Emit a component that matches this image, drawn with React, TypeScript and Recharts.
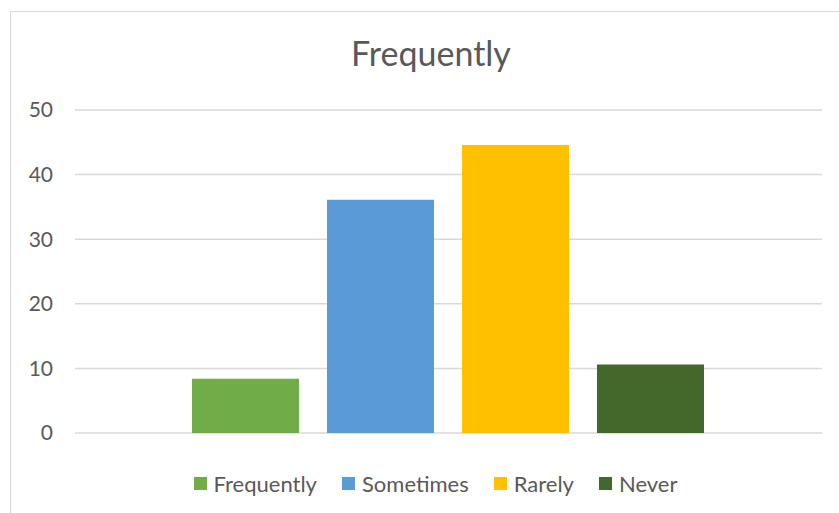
import React from 'react';
import { BarChart, Bar, XAxis, YAxis, CartesianGrid, Legend } from 'recharts';

// Survey response counts, one bar per answer
const categories = ['Frequently'];
const seriesNames = ['Frequently', 'Sometimes', 'Rarely', 'Never'];
const seriesValues = [8.4, 36.1, 44.6, 10.6];
const seriesColors = ['#70AD47', '#5B9BD5', '#FFC000', '#43682B'];
const yTicks = [0, 10, 20, 30, 40, 50];
const chartTitle = 'Frequently';

const data = categories.map((name) => {
  const row: Record<string, string | number> = { name };
  seriesNames.forEach((s, i) => {
    row[s] = seriesValues[i];
  });
  return row;
});

const FONT = 'Lato, "Noto Sans", sans-serif';
const TEXT = '#595959';
const GRID = '#D9D9D9';

const LegendContent = () => (
  <div
    style={{
      display: 'flex',
      justifyContent: 'center',
      alignItems: 'center',
      height: 24,
      fontFamily: FONT,
      fontSize: 22,
      color: TEXT,
      whiteSpace: 'nowrap',
    }}
  >
    {seriesNames.map((s, i) => (
      <div
        key={s}
        style={{ display: 'flex', alignItems: 'center', marginLeft: i === 0 ? 0 : 25 }}
      >
        <span
          style={{
            display: 'inline-block',
            width: 13,
            height: 13,
            background: seriesColors[i],
            marginRight: 7,
          }}
        />
        <span>{s}</span>
      </div>
    ))}
  </div>
);

export default function App() {
  return (
    <div
      style={{
        position: 'absolute',
        left: 0,
        top: 0,
        width: 839,
        height: 513,
        overflow: 'hidden',
        background: '#FFFFFF',
      }}
    >
      {/* chart area frame */}
      <div
        style={{
          position: 'absolute',
          left: 10,
          top: 11,
          width: 860,
          height: 530,
          border: `1.5px solid ${GRID}`,
          boxSizing: 'border-box',
        }}
      />
      <svg
        width={839}
        height={100}
        style={{ position: 'absolute', left: 0, top: 0 }}
      >
        <text
          x={431}
          y={66}
          textAnchor="middle"
          fontFamily={FONT}
          fontSize={34}
          fill={TEXT}
        >
          {chartTitle}
        </text>
      </svg>
      <div style={{ position: 'absolute', left: 0, top: 0 }}>
        <BarChart
          width={839}
          height={513}
          data={data}
          margin={{ top: 110, right: 17, bottom: 80, left: 0 }}
          barCategoryGap={117}
          barGap={28}
        >
          <CartesianGrid vertical={false} stroke={GRID} strokeWidth={1.5} />
          <XAxis dataKey="name" hide />
          <YAxis
            width={75}
            domain={[0, 50]}
            ticks={yTicks}
            axisLine={false}
            tickLine={false}
            tickSize={6}
            tickMargin={16}
            tick={{ fill: TEXT, fontSize: 21, fontFamily: FONT }}
          />
          <Legend
            layout="horizontal"
            verticalAlign="middle"
            align="center"
            content={<LegendContent />}
            wrapperStyle={{ left: 0, top: 471, width: 871 }}
          />
          {seriesNames.map((s, i) => (
            <Bar key={s} dataKey={s} fill={seriesColors[i]} isAnimationActive={false} />
          ))}
        </BarChart>
      </div>
    </div>
  );
}
